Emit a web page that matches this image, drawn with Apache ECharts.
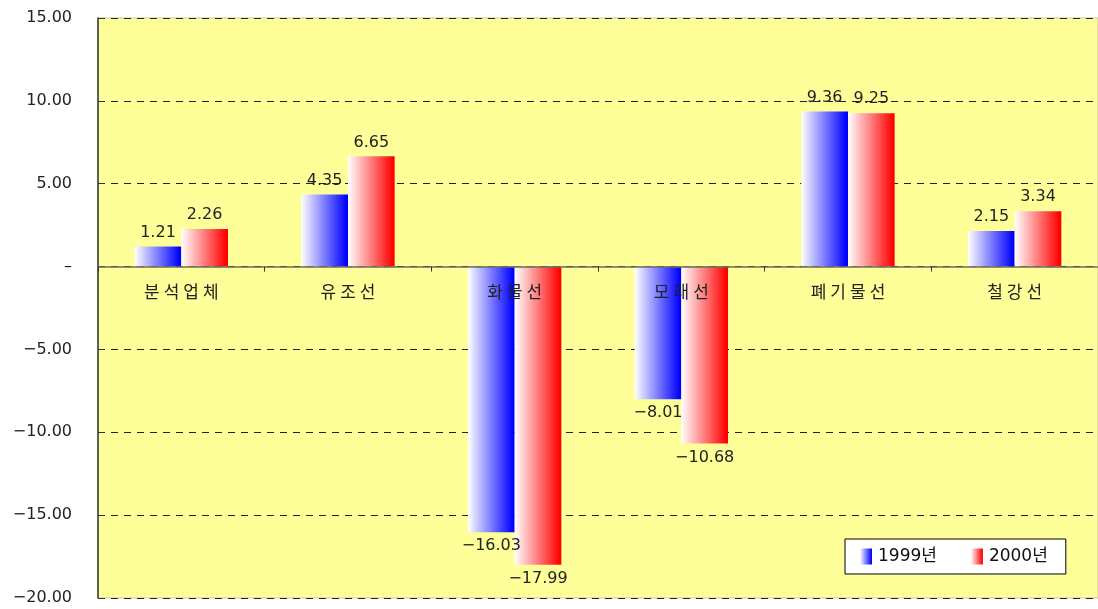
<!DOCTYPE html>
<html><head><meta charset="utf-8">
<script src="https://cdn.jsdelivr.net/npm/echarts@6/dist/echarts.min.js"></script>
<style>html,body{margin:0;padding:0;background:#fff}#c{width:1098px;height:609px}</style>
</head><body><div id="c"></div>
<script>
const categories = ['분석업체', '유조선', '화물선', '모래선', '폐기물선', '철강선'];
const s1999 = [1.21, 4.35, -16.03, -8.01, 9.36, 2.15];
const s2000 = [2.26, 6.65, -17.99, -10.68, 9.25, 3.34];
const seriesNames = ['1999년', '2000년'];
const yTicks = { min: -20, max: 15, interval: 5 };

const FONT = '"DejaVu Sans", "Noto Sans CJK KR", sans-serif';
const GRID = { left: 98, right: 0, top: 18, bottom: 11 };
const plotH = 609 - GRID.top - GRID.bottom;
const zeroFromBottom = plotH * (0 - yTicks.min) / (yTicks.max - yTicks.min);

function grad(c, light) {
  return new echarts.graphic.LinearGradient(0, 0, 1, 0, [
    { offset: 0, color: light }, { offset: 0.97, color: c }, { offset: 1, color: c }
  ]);
}
function mk(vals) {
  return vals.map(v => ({ value: v, label: { position: v < 0 ? 'bottom' : 'top' } }));
}
const chart = echarts.init(document.getElementById('c'), null, { renderer: 'canvas' });
chart.setOption({
  backgroundColor: '#ffffff',
  animation: false,
  textStyle: { fontFamily: FONT },
  grid: Object.assign({ outerBoundsMode: 'none', containLabel: false, show: true, backgroundColor: '#FFFF99', borderColor: '#cfc49a', borderWidth: 1 }, GRID),
  legend: {
    data: seriesNames.map(n => ({ name: n, icon: 'rect' })),
    left: 845, top: 539,
    padding: [9, 18, 9, 15],
    backgroundColor: '#ffffff', borderColor: '#000', borderWidth: 1,
    itemWidth: 12, itemHeight: 16, itemGap: 34,
    textStyle: { fontFamily: FONT, fontSize: 17, color: '#111', padding: [0, 0, 0, 1] }
  },
  xAxis: {
    type: 'category', data: categories,
    position: 'bottom',
    offset: -zeroFromBottom,
    z: 10,
    axisLine: { onZero: false, lineStyle: { color: '#6e6e5a', width: 1.5 } },
    axisTick: { show: true, interval: 0, length: 5, lineStyle: { color: '#333' } },
    axisLabel: { interval: 0, hideOverlap: false, margin: 19, fontSize: 17, color: '#222', fontFamily: FONT,
      formatter: s => s.split('').map(ch => '{c|' + ch + '}').join(''),
      rich: { c: { fontSize: 17, color: '#222', fontFamily: FONT, padding: [0, 2, 0, 2] } } },
    splitLine: { show: false }
  },
  yAxis: {
    type: 'value', min: yTicks.min, max: yTicks.max, interval: yTicks.interval,
    axisLine: { show: true, lineStyle: { color: '#333', width: 1.5 } },
    axisTick: { show: true, inside: true, length: 6, lineStyle: { color: '#333' } },
    axisLabel: { margin: 26, fontSize: 16, color: '#222', fontFamily: FONT,
      formatter: v => v === 0 ? '–' : v.toFixed(2).replace('-', '−') },
    splitLine: { show: true, lineStyle: { color: '#222', type: [7, 6], width: 1 } }
  },
  series: [
    { name: seriesNames[0], type: 'bar', data: mk(s1999), barWidth: '28%', barGap: '0%',
      itemStyle: { color: grad('#0000ff', '#ffffff') },
      label: { show: true, fontSize: 16, color: '#222', distance: 6, fontFamily: FONT,
        formatter: p => String(p.value).replace('-', '−') } },
    { name: seriesNames[1], type: 'bar', data: mk(s2000), barWidth: '28%', barGap: '0%',
      itemStyle: { color: grad('#ff0000', '#ffffff') },
      label: { show: true, fontSize: 16, color: '#222', distance: 6, fontFamily: FONT,
        formatter: p => String(p.value).replace('-', '−') } }
  ]
});
</script></body></html>
